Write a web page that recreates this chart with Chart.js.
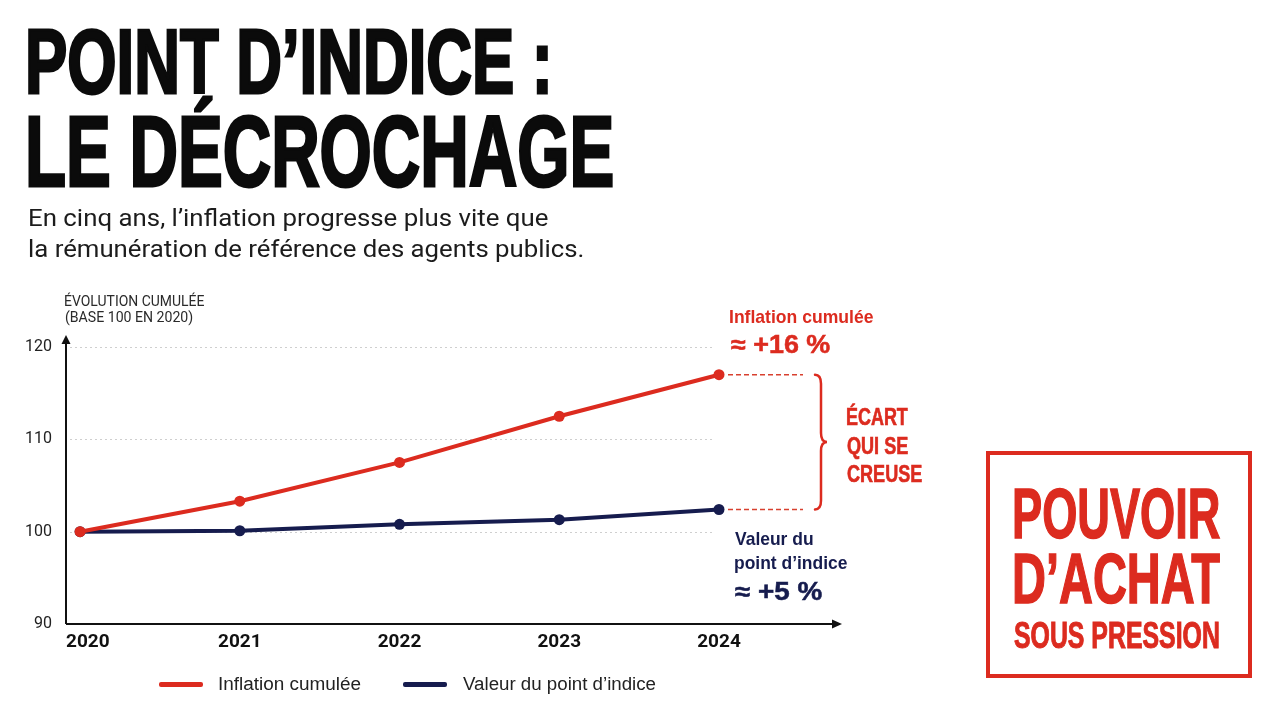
<!doctype html>
<html lang="fr">
<head>
<meta charset="UTF-8">
<title>Point d’indice : le décrochage</title>
<script src="https://cdn.jsdelivr.net/npm/chart.js"></script>
<style>
  html, body { margin: 0; padding: 0; background: #fff; }
  body { width: 1280px; height: 720px; position: relative; overflow: hidden; }
  #chart { position: absolute; left: 0; top: 0; }
  .txt { position: absolute; white-space: nowrap; line-height: 1; transform-origin: 0 0; }
  .key { position: absolute; height: 5px; border-radius: 2px; }
  #box { position: absolute; left: 986px; top: 451px; width: 258px; height: 219px; border: 4px solid #dc2b1f; }
</style>
</head>
<body>
<canvas id="chart" width="1280" height="720"></canvas>
<div id="box"></div>
<script>
const years = [2020, 2021, 2022, 2023, 2024];
const inflation = [100, 103.3, 107.5, 112.5, 117.0];
const pointIndice = [100, 100.1, 100.8, 101.3, 102.4];
const yTicks = [90, 100, 110, 120];
const seriesNames = ["Inflation cumulée", "Valeur du point d’indice"];

const RED = "#dc2b1f";
const NAVY = "#161c4e";
const SANS = '"Liberation Sans", Arial, sans-serif';
const ROBOTO = 'Roboto, "Liberation Sans", sans-serif';

// place a line of text: left edge of ink at x, baseline at base, ink squeezed to width w (no squeeze if w is null)
const meas = document.createElement("canvas").getContext("2d");
function place(text, x, base, w, size, o = {}) {
  const fam = o.family || SANS;
  const wt = o.weight || 400;
  meas.font = `${wt} ${size}px ${fam}`;
  const m = meas.measureText(text);
  const inkW = m.actualBoundingBoxRight + m.actualBoundingBoxLeft;
  const s = w ? w / inkW : 1;
  const d = document.createElement("div");
  d.className = "txt";
  d.textContent = text;
  Object.assign(d.style, {
    fontFamily: fam,
    fontWeight: wt,
    fontSize: size + "px",
    color: o.color || "#111",
    left: x + m.actualBoundingBoxLeft * s + "px",
    top: base - 0.845 * size + "px",
    transform: `scaleX(${s})`,
  });
  if (o.stroke) d.style.webkitTextStroke = o.stroke;
  document.body.appendChild(d);
  return inkW * s;
}

// headline
place("POINT D’INDICE :", 29, 93, 518, 91, { weight: 700, color: "#0b0b0b", stroke: "3px #0b0b0b" });
place("LE DÉCROCHAGE", 29, 186, 583, 101, { weight: 700, color: "#0b0b0b", stroke: "3px #0b0b0b" });
place("En cinq ans, l’inflation progresse plus vite que", 29, 226, 519, 23, { family: ROBOTO, color: "#1c1c1c" });
place("la rémunération de référence des agents publics.", 29, 257, 554, 23, { family: ROBOTO, color: "#1c1c1c" });

// axis title
place("ÉVOLUTION CUMULÉE", 65, 307, 140, 15, { family: ROBOTO, color: "#2a2a2a" });
place("(BASE 100 EN 2020)", 65, 323, 128, 15, { family: ROBOTO, color: "#2a2a2a" });

// side box
place("POUVOIR", 1015, 538, 205, 71, { weight: 700, color: RED, stroke: "1.5px " + RED });
place("D’ACHAT", 1015, 603, 205, 71, { weight: 700, color: RED, stroke: "1.5px " + RED });
place("SOUS PRESSION", 1015, 648, 204, 37, { weight: 700, color: RED, stroke: "1px " + RED });

const decor = {
  id: "decor",
  beforeDatasetsDraw(chart) {
    const { ctx, chartArea: a, scales: { x, y } } = chart;
    const gridEnd = x.getPixelForValue(years[years.length - 1]) - 7;
    ctx.save();
    ctx.strokeStyle = "#cfcfcf";
    ctx.lineWidth = 1;
    ctx.setLineDash([2, 3]);
    yTicks.slice(1).forEach((v) => {
      const py = Math.round(y.getPixelForValue(v)) + 0.5;
      ctx.beginPath();
      ctx.moveTo(a.left + 4, py);
      ctx.lineTo(gridEnd, py);
      ctx.stroke();
    });
    ctx.setLineDash([]);
    // axes with arrow heads
    ctx.strokeStyle = "#111";
    ctx.fillStyle = "#111";
    ctx.lineWidth = 2;
    ctx.beginPath();
    ctx.moveTo(a.left, a.bottom);
    ctx.lineTo(a.left, a.top - 8);
    ctx.moveTo(a.left, a.bottom);
    ctx.lineTo(a.right - 8, a.bottom);
    ctx.stroke();
    ctx.beginPath();
    ctx.moveTo(a.left, a.top - 12);
    ctx.lineTo(a.left - 4.5, a.top - 3);
    ctx.lineTo(a.left + 4.5, a.top - 3);
    ctx.fill();
    ctx.beginPath();
    ctx.moveTo(a.right, a.bottom);
    ctx.lineTo(a.right - 10, a.bottom - 4.5);
    ctx.lineTo(a.right - 10, a.bottom + 4.5);
    ctx.fill();
    ctx.restore();
  },
  afterDatasetsDraw(chart) {
    const { ctx, scales: { x, y } } = chart;
    const last = years.length - 1;
    const px = x.getPixelForValue(years[last]);
    const y1 = y.getPixelForValue(inflation[last]);
    const y2 = y.getPixelForValue(pointIndice[last]);
    ctx.save();
    ctx.strokeStyle = "#d8402f";
    ctx.lineWidth = 1.5;
    ctx.setLineDash([5, 3]);
    [y1, y2].forEach((py) => {
      ctx.beginPath();
      ctx.moveTo(px + 9, py);
      ctx.lineTo(px + 84, py);
      ctx.stroke();
    });
    ctx.setLineDash([]);
    // brace
    const x0 = px + 96, xr = x0 + 6, tip = x0 + 12, mid = (y1 + y2) / 2;
    ctx.strokeStyle = RED;
    ctx.lineWidth = 2.5;
    ctx.lineCap = "round";
    ctx.beginPath();
    ctx.moveTo(x0, y1);
    ctx.quadraticCurveTo(xr, y1, xr, y1 + 9);
    ctx.lineTo(xr, mid - 9);
    ctx.quadraticCurveTo(xr, mid, tip, mid);
    ctx.quadraticCurveTo(xr, mid, xr, mid + 9);
    ctx.lineTo(xr, y2 - 9);
    ctx.quadraticCurveTo(xr, y2, x0, y2);
    ctx.stroke();
    ctx.restore();
  },
};

const chart = new Chart(document.getElementById("chart"), {
  type: "line",
  data: {
    datasets: [
      {
        label: seriesNames[0],
        data: years.map((yr, i) => ({ x: yr, y: inflation[i] })),
        borderColor: RED,
        backgroundColor: RED,
        pointBackgroundColor: RED,
      },
      {
        label: seriesNames[1],
        data: years.map((yr, i) => ({ x: yr, y: pointIndice[i] })),
        borderColor: NAVY,
        backgroundColor: NAVY,
        pointBackgroundColor: NAVY,
      },
    ],
  },
  options: {
    responsive: false,
    animation: false,
    layout: { padding: { left: 0, top: 347, right: 438, bottom: 61 } },
    elements: {
      line: { borderWidth: 4, tension: 0 },
      point: { radius: 5.5, borderWidth: 0 },
    },
    plugins: { legend: { display: false }, tooltip: { enabled: false } },
    scales: {
      x: {
        type: "linear",
        min: 2019.912,
        max: 2024.77,
        afterBuildTicks: (s) => { s.ticks = years.map((v) => ({ value: v })); },
        afterFit: (s) => { s.height = 35; },
        grid: { display: false, drawTicks: false },
        border: { display: false },
        ticks: { display: false },
      },
      y: {
        min: 90,
        max: 120,
        afterBuildTicks: (s) => { s.ticks = yTicks.map((v) => ({ value: v })); },
        afterFit: (s) => { s.width = 66; },
        grid: { display: false, drawTicks: false },
        border: { display: false },
        ticks: {
          padding: 14,
          color: "#222",
          font: { family: ROBOTO, size: 16 },
        },
      },
    },
  },
  plugins: [decor],
});

const sx = chart.scales.x, sy = chart.scales.y;

// year labels under the axis, kept inside the axis on the left
meas.font = `700 19px ${ROBOTO}`;
years.forEach((v) => {
  const label = String(v);
  const w = meas.measureText(label).width;
  const left = Math.max(sx.getPixelForValue(v) - w / 2, chart.chartArea.left);
  place(label, left, 647, null, 19, { family: ROBOTO, weight: 700, color: "#111" });
});

// annotations anchored on the last data points
const li = years.length - 1;
const px = sx.getPixelForValue(years[li]);
const redY = sy.getPixelForValue(inflation[li]);
const blueY = sy.getPixelForValue(pointIndice[li]);
const midY = (redY + blueY) / 2;
place("Inflation cumulée", px + 11, redY - 52, 143, 19, { weight: 700, color: RED });
place("≈ +16 %", px + 12, redY - 22, 99, 25, { weight: 700, color: RED, stroke: "0.5px " + RED });
place("ÉCART", px + 128, midY - 17, 61, 23, { weight: 700, color: RED, stroke: "0.6px " + RED });
place("QUI SE", px + 128, midY + 12, 61, 23, { weight: 700, color: RED, stroke: "0.6px " + RED });
place("CREUSE", px + 128, midY + 40, 75, 23, { weight: 700, color: RED, stroke: "0.6px " + RED });
place("Valeur du", px + 16, blueY + 36, 78, 19, { weight: 700, color: NAVY });
place("point d’indice", px + 16, blueY + 60, 112, 19, { weight: 700, color: NAVY });
place("≈ +5 %", px + 16, blueY + 91, 87, 25, { weight: 700, color: NAVY, stroke: "0.5px " + NAVY });

// legend
const keyX = [159, 403];
const keyW = [142, 193];
const keyColors = [RED, NAVY];
seriesNames.forEach((name, i) => {
  const k = document.createElement("div");
  k.className = "key";
  Object.assign(k.style, { left: keyX[i] + "px", top: "682px", width: "44px", background: keyColors[i] });
  document.body.appendChild(k);
  place(name, keyX[i] + 60, 690, keyW[i], 18, { color: "#222" });
});
</script>
</body>
</html>
